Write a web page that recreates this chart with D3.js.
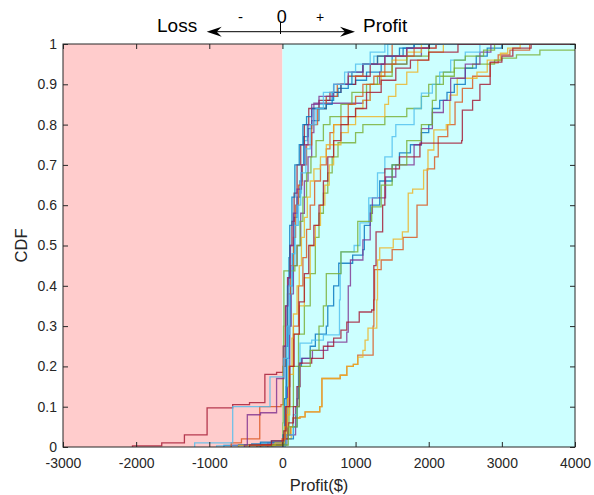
<!DOCTYPE html>
<html>
<head>
<meta charset="utf-8">
<script src="https://cdn.jsdelivr.net/npm/d3@7"></script>
<style>
  body { margin: 0; background: #fff; }
  text { font-family: "Liberation Sans", Arial, Helvetica, sans-serif; }
</style>
</head>
<body>
<svg id="chart" width="594" height="495"></svg>
<script>
// Axis ticks
const xTicks = [-3000, -2000, -1000, 0, 1000, 2000, 3000, 4000];
const yTicks = [0, 0.1, 0.2, 0.3, 0.4, 0.5, 0.6, 0.7, 0.8, 0.9, 1];

// Shaded regions: loss side and profit side
const regions = [
  { from: -3000, to: 0, fill: "#ffcccc" },
  { from: 0, to: 4000, fill: "#ccffff" }
];

// Line colour cycle
const palette = ["#0072BD", "#D95319", "#EDB120", "#7E2F8E", "#77AC30", "#4DBEEE", "#A2142F"];

// Empirical CDF of profit, one array per strategy: [profit ($), cumulative probability]
const cdf01 = [[-800,0.004],[-420,0.008],[-150,0.015],[10,0.03],[40,0.1],[60,0.22],[90,0.3],[110,0.4],[140,0.48],[160,0.57],[200,0.62],[240,0.66],[270,0.7],[290,0.77],[350,0.79],[400,0.81],[500,0.84],[600,0.86],[700,0.87],[760,0.89],[900,0.9],[1000,0.91],[1150,0.93],[1350,0.95],[1500,0.97],[1650,0.99],[1800,1]];
const cdf02 = [[-500,0.003],[-130,0.01],[20,0.03],[110,0.05],[140,0.072],[240,0.075],[310,0.087],[510,0.1],[540,0.17],[790,0.178],[880,0.2],[970,0.205],[1030,0.228],[1240,0.3],[1250,0.365],[1260,0.44],[1350,0.464],[1500,0.49],[1650,0.52],[1840,0.6],[1980,0.69],[2080,0.72],[2130,0.77],[2260,0.8],[2360,0.856],[2460,0.89],[2600,0.92],[2840,0.953],[2950,0.973],[3110,0.985],[3380,1]];
const cdf03 = [[-450,0.003],[-100,0.01],[20,0.02],[120,0.05],[150,0.072],[240,0.075],[310,0.087],[510,0.1],[540,0.17],[790,0.178],[880,0.2],[970,0.205],[1030,0.223],[1100,0.24],[1130,0.265],[1170,0.295],[1290,0.365],[1300,0.464],[1330,0.494],[1515,0.516],[1640,0.534],[1720,0.63],[1780,0.64],[1930,0.687],[1990,0.737],[2070,0.787],[2240,0.8],[2290,0.873],[2390,0.915],[2660,0.93],[2800,0.96],[2980,0.977],[3080,0.99],[3250,1]];
const cdf04 = [[-700,0.004],[-200,0.01],[40,0.03],[70,0.15],[100,0.3],[120,0.38],[150,0.45],[200,0.5],[250,0.58],[300,0.66],[350,0.72],[400,0.78],[430,0.853],[1100,0.86],[1200,0.9],[1330,0.93],[1500,0.95],[1700,0.97],[1900,0.99],[2100,1]];
const cdf05 = [[-300,0.005],[30,0.03],[90,0.1],[150,0.2],[220,0.28],[300,0.35],[380,0.43],[450,0.52],[500,0.58],[560,0.63],[620,0.68],[680,0.72],[760,0.755],[1000,0.78],[1100,0.8],[1400,0.82],[1700,0.84],[1900,0.87],[2000,0.9],[2100,0.92],[2350,0.94],[2600,0.95],[2900,0.96],[3000,0.965],[3200,0.973],[3520,0.985]];
const cdf06 = [[-900,0.003],[-300,0.01],[20,0.04],[50,0.15],[80,0.28],[100,0.38],[130,0.45],[170,0.55],[220,0.63],[260,0.7],[300,0.76],[340,0.8],[420,0.84],[500,0.85],[600,0.87],[700,0.9],[900,0.92],[1100,0.95],[1250,0.97],[1440,1]];
const cdf07 = [[-2050,0.003],[-1650,0.01],[-1340,0.03],[-1030,0.097],[-680,0.105],[-450,0.11],[-240,0.18],[-80,0.185],[10,0.25],[40,0.35],[70,0.42],[100,0.5],[130,0.56],[160,0.63],[200,0.7],[250,0.75],[300,0.8],[360,0.84],[500,0.86],[650,0.88],[800,0.9],[1000,0.92],[1200,0.95],[1400,0.97],[1700,0.99],[2000,1]];
const cdf08 = [[-350,0.003],[40,0.02],[150,0.05],[200,0.12],[220,0.2],[260,0.22],[380,0.25],[450,0.28],[600,0.3],[620,0.35],[700,0.4],[770,0.456],[960,0.476],[1100,0.49],[1120,0.55],[1200,0.6],[1330,0.66],[1500,0.7],[1600,0.73],[1750,0.75],[1900,0.78],[2000,0.8],[2050,0.84],[2150,0.86],[2250,0.88],[2350,0.9],[2500,0.94],[2650,0.97],[2800,0.99],[3000,1]];
const cdf09 = [[-700,0.01],[-560,0.02],[-310,0.1],[-20,0.105],[10,0.2],[40,0.3],[70,0.38],[110,0.45],[150,0.52],[180,0.6],[220,0.65],[270,0.7],[330,0.75],[400,0.8],[480,0.84],[600,0.87],[750,0.9],[900,0.92],[1100,0.95],[1300,0.97],[1500,1]];
const cdf10 = [[-500,0.005],[0,0.02],[60,0.08],[100,0.18],[150,0.28],[230,0.35],[300,0.42],[380,0.5],[450,0.55],[520,0.6],[580,0.65],[640,0.7],[700,0.75],[800,0.78],[900,0.82],[1000,0.84],[1100,0.86],[1200,0.9],[1350,0.93],[1500,0.96],[1700,0.98],[1900,1]];
const cdf11 = [[-200,0.005],[60,0.03],[180,0.1],[230,0.208],[270,0.22],[410,0.24],[620,0.26],[880,0.285],[900,0.4],[930,0.464],[1100,0.514],[1200,0.58],[1230,0.618],[1410,0.67],[1550,0.7],[1800,0.75],[1900,0.79],[2050,0.83],[2200,0.86],[2300,0.915],[2500,0.95],[2700,0.98],[2850,1]];
const cdf12 = [[-150,0.005],[5,0.06],[10,0.2],[15,0.3],[20,0.437],[170,0.45],[200,0.5],[240,0.56],[280,0.62],[330,0.68],[390,0.72],[460,0.76],[560,0.8],[650,0.82],[800,0.85],[950,0.88],[1150,0.9],[1300,0.92],[1500,0.95],[1700,0.97],[2000,1]];
const cdf13 = [[-250,0.004],[50,0.03],[150,0.08],[200,0.15],[240,0.258],[400,0.265],[560,0.278],[780,0.365],[790,0.43],[800,0.484],[980,0.5],[1060,0.556],[1180,0.618],[1300,0.68],[1400,0.72],[1500,0.77],[1550,0.8],[1800,0.84],[1900,0.878],[2050,0.9],[2150,0.93],[2300,0.96],[2500,0.98],[2700,1]];
const cdf14 = [[-300,0.005],[0,0.02],[80,0.06],[150,0.1],[200,0.15],[240,0.208],[400,0.22],[560,0.25],[700,0.27],[800,0.29],[880,0.31],[1050,0.335],[1220,0.34],[1250,0.45],[1280,0.534],[1370,0.6],[1400,0.69],[1600,0.72],[1880,0.754],[2450,0.76],[2460,0.836],[2600,0.86],[2700,0.9],[2840,0.955],[3000,0.97],[3150,0.99],[3400,1]];
const cdf15 = [[-600,0.005],[-300,0.012],[10,0.03],[30,0.12],[50,0.25],[70,0.4],[90,0.47],[100,0.55],[130,0.62],[170,0.7],[230,0.75],[280,0.8],[330,0.82],[400,0.84],[600,0.85],[680,0.88],[800,0.9],[950,0.93],[1100,0.95],[1300,0.97],[1600,0.99],[1800,1]];
const cdf16 = [[-350,0.004],[0,0.02],[40,0.1],[90,0.2],[150,0.3],[220,0.4],[280,0.47],[330,0.54],[380,0.6],[440,0.66],[520,0.7],[600,0.74],[650,0.78],[700,0.8],[800,0.82],[900,0.85],[1000,0.87],[1100,0.9],[1250,0.92],[1400,0.95],[1550,0.97],[1800,0.99],[2100,1]];
const cdf17 = [[-600,0.004],[-100,0.01],[30,0.05],[70,0.12],[90,0.2],[130,0.27],[150,0.33],[200,0.4],[230,0.45],[260,0.52],[300,0.57],[340,0.62],[380,0.66],[430,0.69],[520,0.72],[600,0.75],[700,0.8],[1000,0.82],[1400,0.85],[1450,0.87],[1550,0.9],[1700,0.93],[1850,0.96],[2000,0.98],[2200,1]];
const cdf18 = [[-520,0.005],[-480,0.08],[-300,0.085],[-80,0.17],[20,0.25],[50,0.35],[80,0.42],[110,0.5],[150,0.58],[200,0.64],[260,0.7],[310,0.75],[350,0.8],[400,0.85],[500,0.87],[700,0.9],[900,0.93],[1100,0.95],[1400,0.97],[1700,0.99],[2000,1]];
const cdf19 = [[-150,0.005],[80,0.05],[200,0.1],[230,0.2],[380,0.24],[500,0.3],[560,0.35],[600,0.43],[800,0.484],[1030,0.56],[1220,0.596],[1350,0.65],[1500,0.7],[1700,0.76],[1900,0.8],[2050,0.86],[2100,0.9],[2200,0.93],[2350,0.96],[2500,0.97],[2750,0.985],[2900,1]];
const cdf20 = [[-1200,0.01],[-680,0.1],[-170,0.174],[20,0.22],[60,0.3],[90,0.4],[130,0.48],[170,0.55],[200,0.6],[250,0.68],[320,0.74],[380,0.8],[460,0.84],[560,0.88],[700,0.9],[850,0.93],[1000,0.95],[1200,0.98],[1400,1]];
const cdf21 = [[-450,0.005],[-150,0.015],[20,0.04],[50,0.1],[100,0.2],[160,0.28],[230,0.36],[300,0.43],[360,0.5],[430,0.55],[500,0.6],[560,0.66],[620,0.72],[700,0.76],[800,0.8],[900,0.82],[1000,0.84],[1150,0.88],[1350,0.91],[1550,0.94],[1750,0.96],[2000,0.98],[2400,1]];

const allCdfs = [cdf01, cdf02, cdf03, cdf04, cdf05, cdf06, cdf07, cdf08, cdf09, cdf10, cdf11,
                 cdf12, cdf13, cdf14, cdf15, cdf16, cdf17, cdf18, cdf19, cdf20, cdf21];

const svg = d3.select("#chart");
const margin = { left: 63, right: 19, top: 44, bottom: 48 };
const W = 594, H = 495;
const x = d3.scaleLinear().domain([-3000, 4000]).range([margin.left, W - margin.right]);
const y = d3.scaleLinear().domain([0, 1]).range([H - margin.bottom, margin.top]);
const axisColor = "#262626";

svg.append("defs").append("clipPath").attr("id", "plotClip")
  .append("rect")
  .attr("x", x(-3000)).attr("y", y(1))
  .attr("width", x(4000) - x(-3000)).attr("height", y(0) - y(1));

// Loss / profit background
svg.append("g").selectAll("rect").data(regions).join("rect")
  .attr("x", d => x(d.from)).attr("width", d => x(d.to) - x(d.from))
  .attr("y", y(1)).attr("height", y(0) - y(1))
  .attr("fill", d => d.fill);

// Step CDF lines
const line = d3.line().x(d => x(d[0])).y(d => y(d[1])).curve(d3.curveStepAfter);
svg.append("g").attr("clip-path", "url(#plotClip)")
  .selectAll("path").data(allCdfs).join("path")
  .attr("d", s => line([[s[0][0], 0], ...s, [4000, s[s.length - 1][1]]]))
  .attr("fill", "none")
  .attr("stroke", (s, i) => palette[i % palette.length])
  .attr("stroke-width", 1.3)
  .attr("stroke-opacity", 0.8);

// Axes with inward ticks on all four sides
function styleAxis(g) {
  g.selectAll("line").attr("stroke", axisColor);
  g.selectAll("path").remove();
  g.selectAll("text").attr("fill", axisColor).style("font-size", "14px")
    .style("font-family", '"Liberation Sans", Arial, sans-serif');
}
svg.append("g").attr("transform", `translate(0,${y(0)})`)
  .call(d3.axisBottom(x).tickValues(xTicks).tickSize(-5).tickSizeOuter(0).tickPadding(11).tickFormat(d => String(d)))
  .call(styleAxis);
svg.append("g").attr("transform", `translate(0,${y(1)})`)
  .call(d3.axisTop(x).tickValues(xTicks).tickSize(-5).tickSizeOuter(0).tickFormat(""))
  .call(styleAxis);
svg.append("g").attr("transform", `translate(${x(-3000)},0)`)
  .call(d3.axisLeft(y).tickValues(yTicks).tickSize(-5).tickSizeOuter(0).tickPadding(6).tickFormat(d => String(d)))
  .call(styleAxis);
svg.append("g").attr("transform", `translate(${x(4000)},0)`)
  .call(d3.axisRight(y).tickValues(yTicks).tickSize(-5).tickSizeOuter(0).tickFormat(""))
  .call(styleAxis);

svg.append("rect")
  .attr("x", x(-3000)).attr("y", y(1))
  .attr("width", x(4000) - x(-3000)).attr("height", y(0) - y(1))
  .attr("fill", "none").attr("stroke", axisColor).attr("stroke-width", 1);

// Axis titles
svg.append("text")
  .attr("x", (x(-3000) + x(4000)) / 2).attr("y", 491)
  .attr("text-anchor", "middle").attr("fill", axisColor)
  .style("font-size", "16.5px").text("Profit($)");
svg.append("text")
  .attr("transform", `translate(27,${(y(0) + y(1)) / 2}) rotate(-90)`)
  .attr("text-anchor", "middle").attr("fill", axisColor)
  .style("font-size", "16.5px").text("CDF");

// Loss / Profit direction annotation
const ann = svg.append("g");
const ay = 31.7, leftTip = 206.7, rightTip = 355;
ann.append("line").attr("x1", leftTip + 8).attr("x2", rightTip - 8)
  .attr("y1", ay).attr("y2", ay).attr("stroke", "#000").attr("stroke-width", 1);
ann.append("path")
  .attr("d", `M${leftTip},${ay} L${leftTip + 15},${ay - 5} L${leftTip + 10},${ay} L${leftTip + 15},${ay + 5} Z`)
  .attr("fill", "#000");
ann.append("path")
  .attr("d", `M${rightTip},${ay} L${rightTip - 15},${ay - 5} L${rightTip - 10},${ay} L${rightTip - 15},${ay + 5} Z`)
  .attr("fill", "#000");
ann.append("line").attr("x1", 280.5).attr("x2", 280.5).attr("y1", 22).attr("y2", 34)
  .attr("stroke", "#000").attr("stroke-width", 1);
ann.append("text").attr("x", 157).attr("y", 32).style("font-size", "19px").text("Loss");
ann.append("text").attr("x", 363).attr("y", 32).style("font-size", "19px").text("Profit");
ann.append("text").attr("x", 281.7).attr("y", 23).attr("text-anchor", "middle").style("font-size", "18px").text("0");
ann.append("text").attr("x", 240.5).attr("y", 21.5).attr("text-anchor", "middle").style("font-size", "15px").text("-");
ann.append("text").attr("x", 320).attr("y", 21.5).attr("text-anchor", "middle").style("font-size", "14px").text("+");
</script>
</body>
</html>
